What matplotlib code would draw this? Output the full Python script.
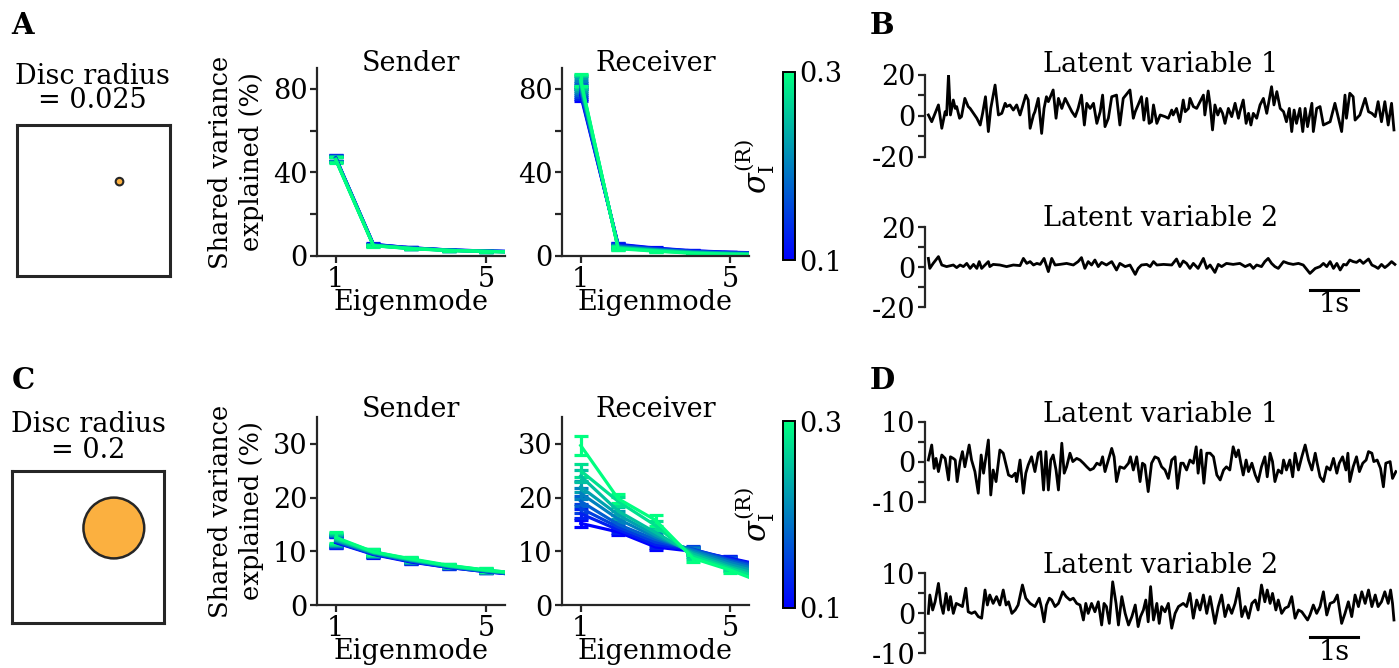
import numpy as np
import matplotlib.pyplot as plt
from matplotlib.patches import Circle
from matplotlib.cm import ScalarMappable
from matplotlib.colors import Normalize

plt.rcParams['font.family'] = 'DejaVu Serif'
plt.rcParams['mathtext.fontset'] = 'dejavuserif'
plt.rcParams['font.size'] = 19.5
plt.rcParams['axes.titlesize'] = 19.5
plt.rcParams['axes.unicode_minus'] = False

DARK = '#262626'
DISC = '#fbb040'

# ---- data ----
sigmas = [0.1, 0.125, 0.15, 0.175, 0.2, 0.225, 0.25, 0.275, 0.3]
modes = [1, 2, 3, 4, 5, 6]
disc_radius = [0.025, 0.2]
disc_center = (0.67, 0.625)

# rows = eigenmode, columns = sigma
snd_a = [[47.0, 46.9, 46.8, 46.6, 46.5, 46.4, 46.3, 46.1, 46.0],
         [5.6, 5.5, 5.4, 5.3, 5.2, 5.1, 5.0, 5.0, 4.9],
         [3.9, 3.9, 3.8, 3.8, 3.7, 3.7, 3.6, 3.6, 3.5],
         [2.9, 2.9, 2.8, 2.8, 2.8, 2.7, 2.7, 2.7, 2.6],
         [2.4, 2.4, 2.3, 2.3, 2.3, 2.2, 2.2, 2.2, 2.2],
         [2.0, 2.0, 2.0, 1.9, 1.9, 1.9, 1.9, 1.9, 1.8]]
snd_a_err = [1.3, 0.4, 0.3, 0.2, 0.2, 0.2]

rcv_a = [[77.0, 78.0, 79.0, 80.0, 81.0, 82.0, 83.0, 83.7, 84.3],
         [5.6, 5.3, 5.0, 4.7, 4.4, 4.2, 4.0, 3.8, 3.5],
         [3.8, 3.6, 3.4, 3.2, 3.0, 2.9, 2.7, 2.5, 2.3],
         [2.5, 2.4, 2.2, 2.0, 1.9, 1.7, 1.6, 1.4, 1.3],
         [1.8, 1.7, 1.5, 1.4, 1.3, 1.2, 1.0, 0.9, 0.8],
         [1.4, 1.3, 1.2, 1.1, 1.0, 0.9, 0.8, 0.7, 0.6]]
rcv_a_err = [3.0, 0.8, 0.4, 0.3, 0.2, 0.2]

snd_c = [[11.6, 11.7, 11.8, 11.9, 12.0, 12.1, 12.2, 12.4, 12.6],
         [9.4, 9.5, 9.5, 9.6, 9.7, 9.7, 9.8, 9.9, 9.9],
         [8.0, 8.1, 8.2, 8.2, 8.3, 8.4, 8.4, 8.5, 8.6],
         [7.0, 7.0, 7.1, 7.1, 7.2, 7.2, 7.3, 7.3, 7.4],
         [6.2, 6.2, 6.3, 6.3, 6.3, 6.4, 6.4, 6.5, 6.5],
         [5.5, 5.5, 5.6, 5.6, 5.6, 5.7, 5.7, 5.8, 5.8]]
snd_c_err = [1.0, 0.6, 0.4, 0.3, 0.3, 0.3]

rcv_c = [[15.2, 17.0, 18.0, 19.3, 20.8, 22.0, 24.0, 25.0, 29.7],
         [13.6, 14.0, 14.5, 15.0, 16.0, 16.8, 17.5, 19.3, 19.8],
         [10.8, 11.2, 11.7, 12.2, 12.6, 13.0, 13.5, 14.8, 15.8],
         [10.0, 10.3, 10.4, 10.3, 10.1, 9.8, 9.5, 9.1, 8.7],
         [8.7, 8.6, 8.4, 8.2, 7.9, 7.5, 7.1, 6.8, 6.5],
         [7.2, 7.0, 6.8, 6.5, 6.1, 5.7, 5.2, 4.6, 3.8]]
rcv_c_err = [[0.7, 0.8, 0.8, 0.9, 1.0, 1.0, 1.1, 1.2, 1.8],
             [0.6, 0.6, 0.6, 0.6, 0.7, 0.7, 0.7, 0.8, 0.9],
             [0.6, 0.6, 0.6, 0.6, 0.7, 0.7, 0.7, 0.9, 1.0],
             [0.5, 0.5, 0.5, 0.5, 0.5, 0.5, 0.6, 0.6, 0.7],
             [0.5, 0.5, 0.5, 0.5, 0.5, 0.5, 0.5, 0.5, 0.5],
             [0.4, 0.4, 0.4, 0.4, 0.4, 0.4, 0.4, 0.4, 0.4]]

# latent traces (time in s, value)
b1_t = [0.07, 0.14, 0.28, 0.35, 0.42, 0.45, 0.49, 0.53, 0.59, 0.63, 0.66, 0.72, 0.76, 0.83, 0.90, 0.94,
        1.01, 1.08, 1.15, 1.20, 1.26, 1.32, 1.37, 1.46, 1.53, 1.60, 1.67, 1.70, 1.77, 1.84, 1.91, 1.98,
        2.10, 2.15, 2.19, 2.26, 2.29, 2.36, 2.43, 2.48, 2.53, 2.57, 2.67, 2.73, 2.78, 2.85, 2.92, 2.99,
        3.06, 3.13, 3.19, 3.26, 3.32, 3.37, 3.44, 3.51, 3.58, 3.65, 3.70, 3.75, 3.82, 3.89, 3.99, 4.06,
        4.13, 4.27, 4.34, 4.38, 4.44, 4.51, 4.56, 4.62, 4.67, 4.72, 4.76, 4.83, 4.90, 5.00, 5.07, 5.14,
        5.17, 5.24, 5.31, 5.38, 5.42, 5.49, 5.52, 5.59, 5.66, 5.80, 5.83, 5.90, 5.94, 5.99, 6.04, 6.10,
        6.15, 6.20, 6.25, 6.32, 6.39, 6.46, 6.53, 6.56, 6.63, 6.69, 6.74, 6.79, 6.84, 6.91, 6.98, 7.05,
        7.12, 7.22, 7.27, 7.33, 7.40, 7.47, 7.53, 7.59, 7.64, 7.69, 7.74, 7.81, 7.87, 7.92, 7.97, 8.06,
        8.09, 8.16, 8.23, 8.30, 8.44, 8.54, 8.68, 8.75, 8.78, 8.85, 8.92, 8.96, 9.06, 9.17, 9.24, 9.31,
        9.38, 9.44, 9.51, 9.58, 9.65, 9.72, 9.77]
b1_v = [0.5, -2.8, 5.4, -6.0, 2.1, 0.5, 20.3, 0.5, 7.8, 3.7, 4.6, -1.1, -0.3, 8.6, 4.6, 3.7,
        1.3, -1.1, -4.4, 1.3, 9.4, -7.6, 3.7, 15.1, 0.5, 1.3, 6.2, 4.6, 5.4, 2.9, 5.4, 0.5,
        10.2, 7.8, -6.0, 0.5, 2.1, 8.6, -8.5, 3.7, 9.4, 7.0, 12.7, -1.1, 8.6, 3.7, 8.6, 5.4,
        2.1, -0.3, 3.7, 10.2, -4.4, 6.2, 3.7, 6.2, -3.6, 2.1, 10.2, -5.2, -1.1, 9.4, 10.2, -4.4,
        8.6, 12.7, -1.1, 2.1, 5.4, 9.4, -2.0, 8.6, -3.6, -2.8, 5.4, -3.6, 0.5, -0.3, -1.1, 2.9,
        0.5, 3.7, -2.8, 7.8, 2.1, 3.7, 8.6, 4.6, 3.7, 10.2, 0.5, 12.2, 5.4, -6.8, 5.4, 0.5,
        3.7, 1.3, -3.6, 3.7, -0.3, 6.2, -1.1, 2.1, 7.8, -3.6, 1.3, -4.4, 1.3, -1.1, 5.4, 8.6,
        1.3, 14.3, 5.4, 11.9, 3.7, 2.1, -2.8, 3.7, -7.6, 2.9, -3.6, 3.7, -7.6, 3.7, -5.2, 6.2,
        -7.6, 3.7, 4.6, -4.4, -2.8, 6.2, -7.6, 10.2, -1.1, 11.1, 9.4, -2.0, 0.5, 8.6, 2.1, 1.3,
        -0.3, 7.0, -2.8, 7.0, -4.4, 6.2, -6.8]

b2_t = [0.07, 0.10, 0.17, 0.28, 0.35, 0.45, 0.59, 0.66, 0.73, 0.80, 0.87, 0.94, 1.01, 1.08, 1.13, 1.18,
        1.25, 1.32, 1.35, 1.42, 1.56, 1.70, 1.84, 1.98, 2.05, 2.12, 2.19, 2.26, 2.33, 2.40, 2.48, 2.57,
        2.64, 2.71, 2.81, 2.95, 3.09, 3.19, 3.26, 3.33, 3.40, 3.47, 3.54, 3.61, 3.68, 3.78, 3.89, 3.99,
        4.06, 4.17, 4.27, 4.38, 4.44, 4.51, 4.62, 4.69, 4.76, 4.83, 4.97, 5.14, 5.24, 5.31, 5.38, 5.45,
        5.52, 5.59, 5.69, 5.80, 5.87, 5.94, 6.04, 6.11, 6.18, 6.28, 6.42, 6.56, 6.67, 6.77, 6.84, 6.91,
        7.01, 7.08, 7.15, 7.22, 7.29, 7.36, 7.47, 7.57, 7.67, 7.78, 7.88, 8.02, 8.13, 8.23, 8.30, 8.37,
        8.44, 8.51, 8.58, 8.65, 8.72, 8.78, 8.85, 8.92, 8.99, 9.06, 9.13, 9.24, 9.31, 9.38, 9.44, 9.51,
        9.58, 9.65, 9.72, 9.79]
b2_v = [4.3, -0.7, 1.8, 5.2, 1.0, 0.2, 1.0, -0.3, 1.0, 0.2, 1.8, -0.7, 1.3, -0.7, 2.7, -0.7,
        1.0, 2.7, 0.2, 1.3, 1.0, 0.2, 1.0, 0.7, 4.3, 1.8, 2.7, 1.0, 1.8, 1.3, 4.3, -2.3,
        4.3, 1.0, 1.3, 1.8, 1.0, 2.7, 4.7, -0.7, 2.7, 1.0, 3.5, 0.2, 2.3, 1.0, 2.7, -1.5,
        1.8, 0.2, 1.0, -3.7, -0.7, 1.0, 1.3, 0.2, 2.7, 1.0, 1.3, 1.0, 4.0, 0.2, 3.0, 1.8,
        -0.7, 1.8, -0.7, 4.3, -0.7, 1.0, -2.7, 1.3, 0.2, 1.8, 1.3, 1.8, 0.2, 1.3, -0.7, 1.0,
        0.2, 2.7, 4.3, 1.8, 0.2, -0.7, 2.7, 1.8, 1.3, 1.8, 1.0, -3.2, -0.7, 0.2, 1.8, 0.2,
        2.7, -0.7, 1.8, -1.5, 1.3, 1.0, 3.5, 2.7, 2.3, 3.5, 1.8, 4.0, 1.0, 0.2, -0.7, 1.3,
        -0.3, 1.0, 2.7, 1.3]

d1_t = [0.07, 0.14, 0.19, 0.23, 0.28, 0.35, 0.42, 0.49, 0.53, 0.59, 0.63, 0.67, 0.73, 0.78, 0.83, 0.92,
        0.97, 1.04, 1.11, 1.17, 1.22, 1.26, 1.32, 1.37, 1.42, 1.48, 1.56, 1.63, 1.74, 1.81, 1.88, 1.91,
        1.98, 2.05, 2.10, 2.15, 2.22, 2.29, 2.36, 2.41, 2.47, 2.52, 2.57, 2.62, 2.67, 2.73, 2.78, 2.85,
        2.90, 2.95, 3.02, 3.08, 3.16, 3.23, 3.30, 3.37, 3.44, 3.51, 3.58, 3.65, 3.70, 3.75, 3.82, 3.89,
        3.94, 3.99, 4.06, 4.15, 4.24, 4.28, 4.34, 4.41, 4.48, 4.53, 4.58, 4.65, 4.72, 4.79, 4.86, 4.93,
        5.00, 5.07, 5.14, 5.21, 5.26, 5.33, 5.38, 5.45, 5.52, 5.59, 5.65, 5.69, 5.75, 5.81, 5.87, 5.94,
        6.01, 6.08, 6.15, 6.22, 6.28, 6.35, 6.42, 6.48, 6.53, 6.58, 6.63, 6.69, 6.74, 6.81, 6.88, 6.94,
        7.01, 7.08, 7.13, 7.19, 7.24, 7.29, 7.36, 7.43, 7.47, 7.53, 7.60, 7.66, 7.71, 7.78, 7.85, 7.92,
        7.99, 8.06, 8.13, 8.17, 8.23, 8.30, 8.37, 8.44, 8.51, 8.58, 8.63, 8.70, 8.77, 8.81, 8.85, 8.92,
        8.99, 9.05, 9.12, 9.19, 9.24, 9.31, 9.35, 9.42, 9.49, 9.55, 9.60, 9.69, 9.74, 9.81]
d1_v = [0.5, 4.25, -1.6, 0.9, -2.4, 1.75, 0.9, -4.5, 1.3, 0.9, 0.5, -4.9, 0.1, 2.6, -1.2, 4.25,
        0.5, -2.4, -7.8, 1.75, -2.8, 0.5, 5.5, -8.25, -2.0, -4.9, 3.0, 2.2, -3.25, -3.7, -2.8, -4.9,
        0.5, -7.8, -2.8, -0.75, 1.3, -2.4, 2.2, 2.6, -7.0, 2.6, -7.0, 0.5, 1.75, -2.0, -7.0, 4.7,
        -2.8, -1.2, 2.2, 0.1, 0.9, 0.5, -0.3, -1.2, -2.0, -1.6, -0.3, -0.75, 1.3, -2.4, 0.5, 3.4,
        1.3, -4.9, -1.2, -1.6, -0.3, 1.3, -2.0, 1.3, -4.9, -0.3, -0.75, -7.4, -0.3, 1.3, 0.9, -1.2,
        -2.0, -4.1, 0.5, 1.3, -6.6, -0.3, -0.3, -2.0, 0.5, -0.3, 3.8, -2.8, 3.0, -5.3, 2.2, 2.2,
        1.3, -3.25, -4.5, -2.0, -1.2, -2.0, 3.8, 1.3, 3.0, -0.3, -3.25, 0.5, -2.4, -0.3, -3.25, -4.9,
        -1.2, 1.3, -3.7, 2.2, 0.1, -4.9, -2.0, -2.8, 0.5, -2.0, 0.5, -3.7, 2.2, -2.0, 1.3, 4.25,
        0.5, -2.0, 2.2, -0.3, -3.7, -4.9, -1.2, -2.0, 0.9, -2.8, -0.3, 1.3, -2.0, 2.2, -4.9, -1.2,
        1.3, -2.4, -0.3, 0.5, 2.6, 2.2, 0.1, 0.5, -1.6, -6.2, -0.3, 0.1, -4.1, -2.4]

d2_t = [0.07, 0.10, 0.16, 0.21, 0.28, 0.33, 0.38, 0.44, 0.49, 0.53, 0.59, 0.65, 0.72, 0.78, 0.85, 0.90,
        0.97, 1.04, 1.11, 1.18, 1.25, 1.30, 1.35, 1.42, 1.49, 1.56, 1.63, 1.69, 1.74, 1.81, 1.88, 1.94,
        2.03, 2.10, 2.19, 2.29, 2.38, 2.43, 2.48, 2.53, 2.59, 2.64, 2.71, 2.78, 2.87, 2.94, 3.02, 3.09,
        3.16, 3.23, 3.30, 3.35, 3.40, 3.47, 3.54, 3.61, 3.68, 3.73, 3.78, 3.84, 3.91, 3.98, 4.03, 4.10,
        4.17, 4.24, 4.31, 4.38, 4.44, 4.49, 4.55, 4.60, 4.65, 4.70, 4.76, 4.83, 4.88, 4.93, 5.00, 5.07,
        5.14, 5.21, 5.28, 5.38, 5.45, 5.52, 5.59, 5.66, 5.73, 5.80, 5.87, 5.94, 6.04, 6.11, 6.18, 6.25,
        6.32, 6.39, 6.46, 6.53, 6.60, 6.67, 6.74, 6.81, 6.88, 6.94, 7.01, 7.08, 7.13, 7.19, 7.24, 7.31,
        7.36, 7.43, 7.50, 7.57, 7.64, 7.71, 7.78, 7.85, 7.92, 7.97, 8.02, 8.09, 8.16, 8.23, 8.30, 8.37,
        8.44, 8.52, 8.59, 8.68, 8.75, 8.82, 8.89, 8.96, 9.03, 9.10, 9.17, 9.24, 9.31, 9.38, 9.44, 9.51,
        9.58, 9.65, 9.70, 9.74, 9.77]
d2_v = [-0.1, 4.5, 0.75, 2.8, 7.4, 2.4, -0.1, 4.9, 0.75, 4.1, -0.1, 2.4, 2.0, 1.6, 6.2, 0.3,
        -0.1, 0.3, -0.9, -1.3, 5.75, 2.0, 4.5, 2.4, 4.1, 2.0, 5.75, 2.0, 2.8, -0.1, 0.75, 2.0,
        7.0, 3.7, 2.4, 1.6, 3.7, 1.2, -2.2, 2.0, 3.7, 3.25, 1.6, 2.4, 5.3, 4.1, 3.25, 3.7,
        2.4, 2.0, -1.75, 2.4, -0.1, 2.4, 0.3, 2.8, -3.0, 2.4, 1.6, -2.6, 7.8, 2.4, -3.0, 4.1,
        -0.1, -3.0, -0.9, 2.0, -3.4, -0.9, 0.75, 3.25, -2.2, 6.6, -1.75, 2.4, -2.6, 1.6, 0.3, 2.4,
        -3.8, -0.1, 1.6, 2.4, 1.6, 4.9, -1.3, 3.25, 0.75, 4.5, -0.1, 4.1, -2.6, 1.6, 4.5, -0.9,
        2.0, -0.1, 2.4, 6.2, -0.9, 1.6, -1.3, 2.4, 3.25, 0.75, 7.0, 2.8, 5.75, 2.4, 4.9, 0.75,
        3.25, -0.1, 1.2, 1.6, 4.1, -1.3, 0.75, 0.3, -0.9, -1.75, -0.5, 2.0, -0.1, 1.6, 5.3, -0.5,
        2.4, 2.8, 4.5, -2.6, -0.1, 2.8, -0.9, 4.5, 1.6, 5.3, 2.4, 5.75, 1.6, 4.5, 1.6, 2.8,
        5.3, 2.4, 5.75, 2.4, -1.75]

# ---- figure ----
W, H = 1399, 668
fig = plt.figure(figsize=(W / 100, H / 100), dpi=100)


def px_axes(x0, y0, x1, y1):
    # box given in pixel coords (top-left origin)
    return fig.add_axes([x0 / W, 1 - y1 / H, (x1 - x0) / W, (y1 - y0) / H])


def style(ax):
    for s in ['top', 'right']:
        ax.spines[s].set_visible(False)
    for s in ['left', 'bottom']:
        ax.spines[s].set_linewidth(1.6)
        ax.spines[s].set_color(DARK)
    ax.tick_params(which='both', direction='out', width=1.6, color=DARK, pad=2)
    ax.tick_params(which='major', length=5)
    ax.tick_params(which='minor', length=5)


cmap = plt.get_cmap('winter')
norm = Normalize(0.1, 0.3)


def eig_panel(ax, means, err, ymax, yticks, yminor, title, ylabel=False, ty=1.0):
    m = np.array(means)
    e = np.array(err, dtype=float)
    if e.ndim == 1:
        e = np.repeat(e[:, None], m.shape[1], axis=1)
    for j, s in enumerate(sigmas):
        ax.errorbar(modes, m[:, j], yerr=e[:, j], color=cmap(norm(s)), lw=2.3,
                    capsize=5, capthick=2.3, elinewidth=2.3)
    ax.set_xlim(0.5, 5.5)
    ax.set_ylim(0, ymax)
    ax.set_xticks([1, 5])
    ax.set_yticks(yticks)
    ax.set_yticks(yminor, minor=True)
    ax.set_xlabel('Eigenmode', labelpad=-3)
    # explicit y turns off the automatic title placement
    ax.set_title(title, y=ty, pad=0)
    if ylabel:
        ax.set_ylabel('Shared variance\nexplained (%)', fontsize=18.5, linespacing=1.3, labelpad=6)
    style(ax)


def colorbar(y0, y1):
    cax = px_axes(783, y0, 795, y1)
    cb = fig.colorbar(ScalarMappable(norm=norm, cmap=cmap), cax=cax, ticks=[0.1, 0.3])
    cb.outline.set_linewidth(1.4)
    cb.ax.tick_params(length=0, pad=3)
    cb.ax.yaxis.set_label_position('left')
    cb.set_label(r'$\sigma_{\mathrm{I}}^{\mathrm{(R)}}$', fontsize=22, labelpad=4)


def disc_panel(x0, y0, x1, y1, r):
    ax = px_axes(x0, y0, x1, y1)
    ax.set_xlim(0, 1)
    ax.set_ylim(0, 1)
    ax.set_xticks([])
    ax.set_yticks([])
    for s in ax.spines.values():
        s.set_linewidth(2.2)
        s.set_color(DARK)
    ax.add_patch(Circle(disc_center, r, facecolor=DISC, edgecolor=DARK,
                        lw=1.8 if r > 0.1 else 1.5))


def trace_panel(y0, y1, t, v, lim, title, ty=1.01, bar_y=None, bar_text_y=None):
    ax = px_axes(925, y0, 1397, y1)
    ax.plot(t, v, color='black', lw=2.0)
    ax.set_xlim(0, 472 / 48)
    ax.set_ylim(-lim, lim)
    ax.set_yticks([-lim, 0, lim])
    ax.set_yticks([-lim / 2, lim / 2], minor=True)
    ax.set_xticks([])
    for s in ['top', 'right', 'bottom']:
        ax.spines[s].set_visible(False)
    ax.spines['left'].set_linewidth(1.6)
    ax.spines['left'].set_color(DARK)
    ax.tick_params(which='both', direction='out', length=5, width=1.6, color=DARK, pad=2)
    ax.set_title(title, y=ty, pad=0)
    ax.patch.set_visible(False)
    if bar_y is not None:
        ax.plot([8.02, 9.02], [bar_y, bar_y], color='black', lw=2.2, clip_on=False)
        ax.text(8.52, bar_text_y, '1s', ha='center', va='center')
    return ax


# panel A / C disc pictures
disc_panel(17, 125, 170, 276, disc_radius[0])
disc_panel(12, 471, 164, 623, disc_radius[1])
fig.text(92 / W, 1 - 76 / H, 'Disc radius', ha='center', va='center')
fig.text(92 / W, 1 - 101 / H, '= 0.025', ha='center', va='center')
fig.text(88 / W, 1 - 425 / H, 'Disc radius', ha='center', va='center')
fig.text(88 / W, 1 - 451 / H, '= 0.2', ha='center', va='center')

# eigenmode panels
ax = px_axes(317, 68, 505, 256)
eig_panel(ax, snd_a, snd_a_err, 90, [0, 40, 80], [20, 60], 'Sender', ylabel=True, ty=0.985)
ax = px_axes(562, 68, 749, 256)
eig_panel(ax, rcv_a, rcv_a_err, 90, [0, 40, 80], [20, 60], 'Receiver', ty=0.985)
colorbar(72, 260)

ax = px_axes(317, 417, 505, 605)
eig_panel(ax, snd_c, snd_c_err, 35, [0, 10, 20, 30], [], 'Sender', ylabel=True, ty=1.0)
ax = px_axes(562, 417, 749, 605)
eig_panel(ax, rcv_c, rcv_c_err, 35, [0, 10, 20, 30], [], 'Receiver', ty=1.0)
colorbar(421, 608)

# latent traces
trace_panel(75, 157, b1_t, b1_v, 20, 'Latent variable 1', ty=1.035)
trace_panel(227, 307, b2_t, b2_v, 20, 'Latent variable 2', bar_y=-11.5, bar_text_y=-19)
trace_panel(422, 502, d1_t, d1_v, 10, 'Latent variable 1', ty=1.0)
trace_panel(573, 653, d2_t, d2_v, 10, 'Latent variable 2', ty=1.0, bar_y=-6, bar_text_y=-9.8)

# panel letters
for lab, x, y in [('A', 23, 25), ('B', 882, 25), ('C', 23, 380), ('D', 882, 380)]:
    fig.text(x / W, 1 - y / H, lab, ha='center', va='center', fontsize=21, fontweight='bold')

fig.savefig('out.png', dpi=100)
